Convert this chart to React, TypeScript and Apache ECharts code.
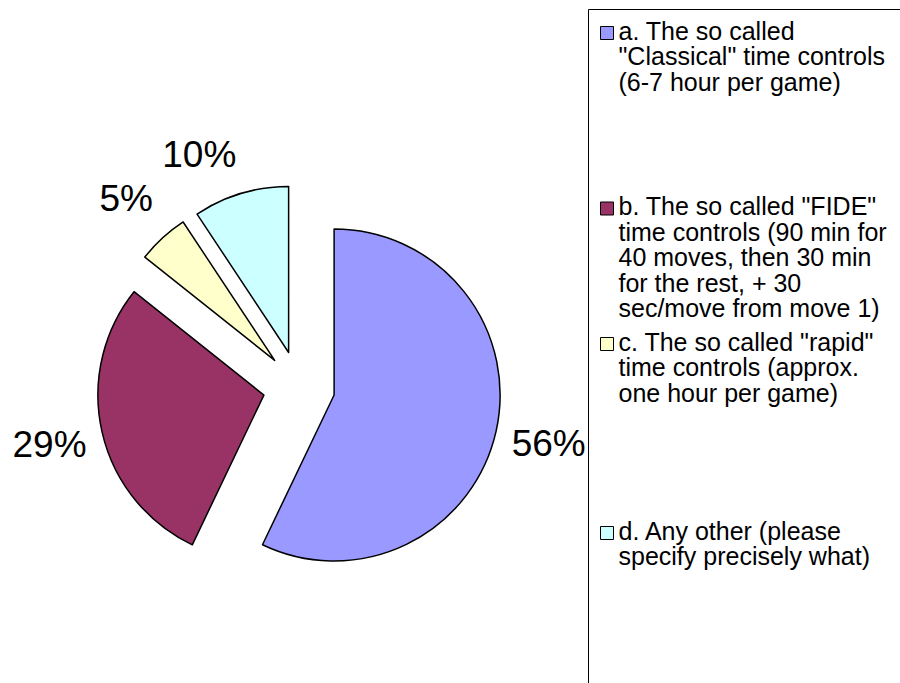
import React, { useEffect, useRef } from 'react';
import * as echarts from 'echarts';

// ---- Data ----
const categories: string[] = [
  'a. The so called\n"Classical" time controls\n(6-7 hour per game)',
  'b. The so called "FIDE"\ntime controls (90 min for\n40 moves, then 30 min\nfor the rest, + 30\nsec/move from move 1)',
  'c. The so called "rapid"\ntime controls (approx.\none hour per game)',
  'd. Any other (please\nspecify precisely what)',
];
// slice sizes as drawn (share of the pie)
const shares: number[] = [57.1, 28.6, 5.0, 9.3];
// percentage labels as printed on the chart
const percentLabels: string[] = ['56%', '29%', '5%', '10%'];
const colors: string[] = ['#9999FF', '#993366', '#FFFFCC', '#CCFFFF'];

// ---- Layout ----
const FONT = '"Liberation Sans", Arial, Helvetica, sans-serif';
const LEGEND_LH = 25.5;
const legendTops = [17.5, 193, 328.5, 517.5];
const ICON_TOP = 8.5;
const ICON_SIZE = 13;
const PIE_CENTER = [299, 387];

export default function App() {
  const ref = useRef<HTMLDivElement>(null);

  useEffect(() => {
    if (!ref.current) return;
    const chart = echarts.init(ref.current, undefined, { renderer: 'svg' });

    const legends = categories.map((name, i) => {
      const n = name.split('\n').length;
      const h = n * LEGEND_LH;
      const icon =
        `path://M0,0L0,0M0,${h}L0,${h}` +
        `M0,${ICON_TOP}h${ICON_SIZE}v${ICON_SIZE}h-${ICON_SIZE}z`;
      return {
        data: [{ name, icon }],
        orient: 'vertical',
        left: 600,
        top: legendTops[i],
        padding: 0,
        itemWidth: ICON_SIZE,
        itemHeight: h,
        symbolKeepAspect: false,
        selectedMode: false,
        itemStyle: { borderColor: '#000', borderWidth: 1 },
        textStyle: {
          fontFamily: FONT,
          fontSize: 25,
          lineHeight: LEGEND_LH,
          color: '#000',
        },
      };
    });

    const option: any = {
      animation: false,
      backgroundColor: '#ffffff',
      legend: legends,
      graphic: [
        {
          type: 'rect',
          silent: true,
          shape: { x: 588.5, y: 9.5, width: 400, height: 700 },
          style: { fill: 'none', stroke: '#000', lineWidth: 1 },
        },
      ],
      series: [
        {
          type: 'pie',
          center: PIE_CENTER,
          radius: [0, 166],
          startAngle: 90,
          clockwise: true,
          selectedMode: 'multiple',
          selectedOffset: 36,
          avoidLabelOverlap: false,
          label: { show: false },
          labelLine: { show: false },
          itemStyle: { borderColor: '#000', borderWidth: 1.5 },
          select: { itemStyle: { borderColor: '#000', borderWidth: 1.5 } },
          emphasis: { disabled: true },
          data: categories.map((name, i) => ({
            name,
            value: shares[i],
            selected: true,
            itemStyle: { color: colors[i] },
          })),
        },
        {
          type: 'pie',
          center: PIE_CENTER,
          radius: [242, 264],
          startAngle: 90,
          clockwise: true,
          silent: true,
          legendHoverLink: false,
          selectedMode: false,
          avoidLabelOverlap: false,
          itemStyle: { color: 'transparent', borderWidth: 0 },
          emphasis: { disabled: true },
          label: {
            show: true,
            position: 'inside',
            overflow: 'none',
            formatter: (p: any) => percentLabels[p.dataIndex],
            fontFamily: FONT,
            fontSize: 37,
            color: '#000',
          },
          labelLine: { show: false },
          labelLayout: (p: any) => (p.dataIndex === 3 ? { dx: -26, dy: 13 } : {}),
          data: categories.map((name, i) => ({ name, value: shares[i] })),
        },
      ],
    };

    chart.setOption(option);
    return () => chart.dispose();
  }, []);

  return (
    <div
      ref={ref}
      style={{ position: 'absolute', left: 0, top: 0, width: 900, height: 683, background: '#fff' }}
    />
  );
}
